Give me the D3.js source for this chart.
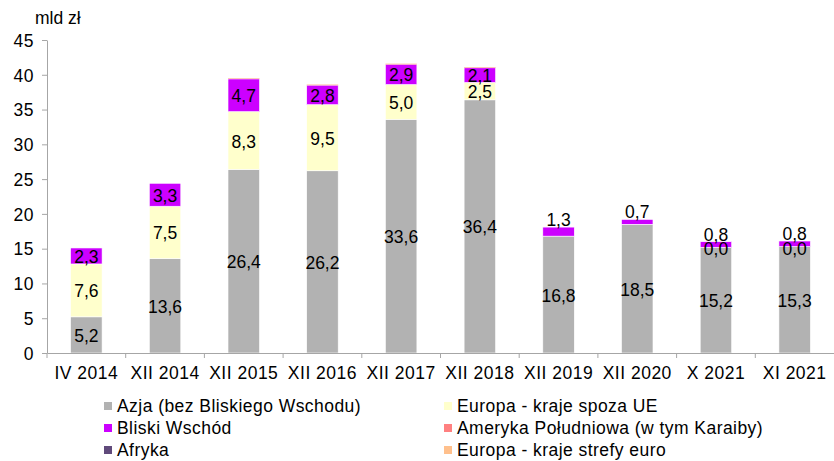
<!DOCTYPE html>
<html>
<head>
	<meta charset="utf-8">
	<style>
		body { margin: 0; background: white; }
		text { font-family: "Liberation Sans", Arial, sans-serif; }
		.axisGrey path, .axisGrey line { stroke: #a6a6a6; }
		.axisGrey text { fill: black; font-size: 17.5px; letter-spacing: 0.5px; font-family: "Liberation Sans", Arial, sans-serif; }
	</style>
	<title>Wartość - mld zł</title>
</head>
<body>
	<script src="https://cdnjs.cloudflare.com/ajax/libs/d3/7.8.5/d3.min.js"></script>
	<script>
	// categories (periods)
	var categories = ["IV 2014", "XII 2014", "XII 2015", "XII 2016", "XII 2017",
	                  "XII 2018", "XII 2019", "XII 2020", "X 2021", "XI 2021"];

	// series values, mld zł
	var azja      = [5.2, 13.6, 26.4, 26.2, 33.6, 36.4, 16.8, 18.5, 15.2, 15.3];
	var europaUE  = [7.6, 7.5, 8.3, 9.5, 5.0, 2.5, 0, 0, 0.0, 0.0];
	var bliski    = [2.3, 3.3, 4.7, 2.8, 2.9, 2.1, 1.3, 0.7, 0.8, 0.8];
	var ameryka   = [0, 0, 0.05, 0.05, 0.05, 0.05, 0, 0, 0, 0];
	var afryka    = [0, 0, 0, 0, 0, 0, 0, 0, 0, 0];
	var euroZone  = [0, 0, 0.05, 0.05, 0.05, 0.05, 0, 0, 0, 0];

	// which Europa (spoza UE) segments carry a data label
	var europaLabels = [true, true, true, true, true, true, false, false, true, true];

	var yTicks = [0, 5, 10, 15, 20, 25, 30, 35, 40, 45];

	var series = [
		{name: "Azja (bez Bliskiego Wschodu)", values: azja, color: "#b2b2b2", label: true},
		{name: "Europa - kraje spoza UE", values: europaUE, color: "#ffffcc", label: "europa"},
		{name: "Bliski Wschód", values: bliski, color: "#cc00ff", label: true},
		{name: "Ameryka Południowa (w tym Karaiby)", values: ameryka, color: "#ff8080", label: false},
		{name: "Afryka", values: afryka, color: "#604a7b", label: false},
		{name: "Europa - kraje strefy euro", values: euroZone, color: "#ffc08c", label: false}
	];

	var svg = d3.select("body")
	            .append("svg")
	            .attr("width", 834)
	            .attr("height", 461);

	var x = d3.scaleBand()
	          .domain(categories)
	          .range([47, 834])
	          .paddingInner(0)
	          .paddingOuter(0);

	var y = d3.scaleLinear()
	          .domain([0, 45])
	          .range([353, 40]);

	var barW = x.bandwidth() * 0.4;

	// stack
	var rows = categories.map(function(c, i) {
		var r = {cat: c};
		series.forEach(function(s, k) { r["s" + k] = s.values[i]; });
		return r;
	});
	var stack = d3.stack().keys(series.map(function(s, k) { return "s" + k; }));
	var stacked = stack(rows);

	stacked.forEach(function(layer, k) {
		svg.append("g")
		   .selectAll("rect")
		   .data(layer)
		   .enter()
		   .append("rect")
		   .attr("x", function(d) { return x(d.data.cat) + (x.bandwidth() - barW) / 2; })
		   .attr("y", function(d) { return y(d[1]); })
		   .attr("width", barW)
		   .attr("height", function(d) { return y(d[0]) - y(d[1]); })
		   .style("fill", series[k].color)
		   .style("stroke", "white")
		   .style("stroke-width", function(d) { return (d[1] - d[0]) > 0.2 ? 0.6 : 0; });
	});

	// data labels
	function fmt(v) { return v.toFixed(1).replace(".", ","); }

	stacked.forEach(function(layer, k) {
		var s = series[k];
		if (!s.label) return;
		layer.forEach(function(d, i) {
			if (s.label === "europa" && !europaLabels[i]) return;
			var v = d[1] - d[0];
			var ty, base = "central";
			if (k === 2 && v < 1.5) {
				ty = y(d[1]) - 1;
				base = "auto";
			} else if (v === 0) {
				ty = y(d[0]) + 2;
			} else {
				ty = (y(d[0]) + y(d[1])) / 2 + 1;
			}
			svg.append("text")
			   .attr("x", x(d.data.cat) + x.bandwidth() / 2)
			   .attr("y", ty)
			   .attr("dominant-baseline", base)
			   .style("text-anchor", "middle")
			   .style("font-size", "17.5px")
			   .style("fill", "black")
			   .text(fmt(v));
		});
	});

	// axes
	svg.append("g")
	   .attr("class", "axisGrey")
	   .attr("transform", "translate(47,0)")
	   .call(d3.axisLeft(y).tickValues(yTicks).tickSize(5).tickSizeOuter(0).tickPadding(8))
	   .call(function(g) { g.selectAll("text").attr("dy", "0.36em"); });

	var xAxis = svg.append("g")
	   .attr("class", "axisGrey")
	   .attr("transform", "translate(0,353)")
	   .call(d3.axisBottom(x).tickSize(0).tickSizeOuter(0).tickPadding(14));
	// tick marks at band boundaries
	xAxis.selectAll("line.sep")
	     .data(categories)
	     .enter()
	     .append("line")
	     .attr("class", "sep")
	     .attr("x1", function(d) { return x(d); })
	     .attr("x2", function(d) { return x(d); })
	     .attr("y1", 0)
	     .attr("y2", 5)
	     .style("stroke", "#a6a6a6");

	// unit label
	svg.append("text")
	   .attr("x", 35)
	   .attr("y", 24)
	   .style("font-size", "17.5px")
	   .style("fill", "black")
	   .text("mld zł");

	// legend
	var legend = svg.append("g");
	series.forEach(function(s, j) {
		var col = j % 2, row = Math.floor(j / 2);
		var lx = col === 0 ? 104 : 444;
		var ly = 406 + row * 22;
		legend.append("rect")
		      .attr("x", lx)
		      .attr("y", ly - 4)
		      .attr("width", 8)
		      .attr("height", 8)
		      .style("fill", s.color);
		legend.append("text")
		      .attr("x", lx + 13)
		      .attr("y", ly)
		      .attr("dominant-baseline", "central")
		      .style("font-size", "17.5px")
		      .style("letter-spacing", "0.45px")
		      .style("fill", "black")
		      .text(s.name);
	});
	</script>
</body>
</html>
